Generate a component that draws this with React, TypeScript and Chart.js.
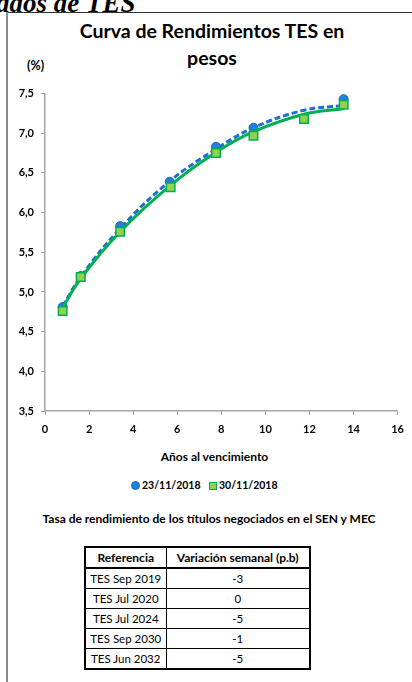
import React, { useEffect, useRef } from "react";
import { Chart, registerables } from "chart.js";

Chart.register(...registerables);

// ---- Data ----
const dateA = "23/11/2018";
const dateB = "30/11/2018";

const maturitiesA = [0.8, 1.62, 3.41, 5.66, 7.76, 9.46, 13.55];
const yieldsA = [4.81, 5.2, 5.83, 6.39, 6.83, 7.07, 7.43];

const maturitiesB = [0.8, 1.62, 3.41, 5.7, 7.76, 9.46, 11.75, 13.55];
const yieldsB = [4.76, 5.19, 5.76, 6.32, 6.75, 6.97, 7.18, 7.36];

// trend curves
const trendX = [0.8, 1.62, 3.41, 5.68, 7.76, 9.46, 11.75, 13.55];
const trendA = [4.82, 5.19, 5.8, 6.4, 6.8, 7.07, 7.29, 7.35];
const trendB = [4.8, 5.17, 5.76, 6.34, 6.76, 7.02, 7.24, 7.31];

const xMin = 0;
const xMax = 16;
const xStep = 2;
const yMin = 3.5;
const yMax = 7.5;
const yStep = 0.5;

const tableHeader = ["Referencia", "Variación semanal (p.b)"];
const tableRefs = ["TES Sep 2019", "TES Jul 2020", "TES Jul 2024", "TES Sep 2030", "TES Jun 2032"];
const tableChanges = ["-3", "0", "-5", "-1", "-5"];

const FONT = "Lato, 'Open Sans', sans-serif";
const BLUE_FILL = "#1f80d8";
const BLUE_BORDER = "#1668c2";
const BLUE_LINE = "#1f6fcf";
const GREEN_FILL = "#92d050";
const GREEN_BORDER = "#00b050";
const AXIS = "#a6a6a6";

function toXY(xs: number[], ys: number[]) {
  return xs.map((x, i) => ({ x, y: ys[i] }));
}

function YieldChart() {
  const ref = useRef<HTMLCanvasElement | null>(null);
  useEffect(() => {
    if (!ref.current) return;
    const chart = new Chart(ref.current, {
      type: "scatter",
      data: {
        datasets: [
          {
            label: dateB,
            data: toXY(maturitiesB, yieldsB),
            pointStyle: "rect",
            pointRadius: 6,
            backgroundColor: GREEN_FILL,
            borderColor: GREEN_BORDER,
            borderWidth: 1.5,
            order: 0,
          },
          {
            label: "trend " + dateB,
            data: toXY(trendX, trendB),
            showLine: true,
            pointRadius: 0,
            borderColor: GREEN_BORDER,
            borderWidth: 3,
            tension: 0.4,
            order: 1,
          },
          {
            label: dateA,
            data: toXY(maturitiesA, yieldsA),
            pointStyle: "circle",
            pointRadius: 4.5,
            backgroundColor: BLUE_FILL,
            borderColor: BLUE_BORDER,
            borderWidth: 1,
            order: 2,
          },
          {
            label: "trend " + dateA,
            data: toXY(trendX, trendA),
            showLine: true,
            pointRadius: 0,
            borderColor: BLUE_LINE,
            borderWidth: 3,
            borderDash: [6, 3],
            tension: 0.4,
            order: 3,
          },
        ],
      },
      options: {
        responsive: false,
        animation: false,
        layout: { padding: { left: 0, right: 11.7, top: 13, bottom: 0 } },
        plugins: {
          legend: { display: false },
          tooltip: { enabled: false },
          title: { display: false },
        },
        scales: {
          x: {
            type: "linear",
            min: xMin,
            max: xMax,
            ticks: {
              stepSize: xStep,
              padding: 8,
              color: "#000",
              font: { family: FONT, size: 11, weight: "bold" },
            },
            grid: { drawOnChartArea: false, drawTicks: true, tickLength: 4, color: AXIS },
            border: { color: AXIS, width: 1.5 },
            afterFit: (s: any) => {
              s.height = 29;
            },
          },
          y: {
            type: "linear",
            min: yMin,
            max: yMax,
            ticks: {
              stepSize: yStep,
              padding: 7,
              color: "#000",
              font: { family: FONT, size: 11, weight: "bold" },
              callback: (v: any) => Number(v).toFixed(1).replace(".", ","),
            },
            grid: { drawOnChartArea: false, drawTicks: true, tickLength: 4, color: AXIS },
            border: { color: AXIS, width: 1.5 },
            afterFit: (s: any) => {
              s.width = 45;
            },
          },
        },
      },
    } as any);
    return () => chart.destroy();
  }, []);
  return (
    <canvas
      ref={ref}
      width={412}
      height={360}
      style={{ position: "absolute", left: 0, top: 80, width: 412, height: 360 }}
    />
  );
}

function Txt(props: {
  text: string;
  cx?: number;
  left?: number;
  cy: number;
  size: number;
  bold?: boolean;
  width?: number;
}) {
  const lh = props.size * 1.2;
  const w = props.width ?? 412;
  const left = props.left ?? (props.cx ?? 206) - w / 2;
  return (
    <div
      style={{
        position: "absolute",
        left,
        top: props.cy - props.size * 0.627,
        width: w,
        textAlign: props.left !== undefined ? "left" : "center",
        fontFamily: FONT,
        fontSize: props.size,
        fontWeight: props.bold ? 700 : 400,
        lineHeight: `${lh}px`,
        whiteSpace: "nowrap",
        color: "#000",
      }}
    >
      {props.text}
    </div>
  );
}

export default function App() {
  const cell = (extra: React.CSSProperties = {}): React.CSSProperties => ({
    border: "1px solid #000",
    padding: 0,
    height: 19,
    textAlign: "center",
    verticalAlign: "middle",
    fontFamily: FONT,
    fontSize: 11.5,
    lineHeight: "19px",
    color: "#000",
    whiteSpace: "nowrap",
    ...extra,
  });
  return (
    <div
      style={{
        position: "absolute",
        left: 0,
        top: 0,
        width: 412,
        height: 682,
        overflow: "hidden",
        background: "#fff",
      }}
    >
      {/* cut-off page heading */}
      <div
        style={{
          position: "absolute",
          left: -4,
          top: 14 - 27 * 0.891,
          fontFamily: "'Liberation Serif', 'Times New Roman', serif",
          fontStyle: "italic",
          fontWeight: 700,
          fontSize: 27,
          lineHeight: "27px",
          whiteSpace: "nowrap",
          color: "#000",
        }}
      >
        ados de TES
      </div>
      {/* frame */}
      <div style={{ position: "absolute", left: 7, top: 12, width: 420, height: 1, background: "#333" }} />
      <div style={{ position: "absolute", left: 6, top: 12, width: 2, height: 680, background: "#8c8c8c" }} />

      {/* title */}
      <Txt text="Curva de Rendimientos TES en" cx={212} cy={31.5} size={19.5} bold />
      <Txt text="pesos" cx={212} cy={58.5} size={19.5} bold />
      <Txt text="(%)" left={27} cy={66} size={12.5} bold />

      <YieldChart />

      <Txt text="Años al vencimiento" cx={214.5} cy={457.5} size={12} bold />

      {/* legend */}
      <div
        style={{
          position: "absolute",
          left: 130.5,
          top: 481,
          width: 9,
          height: 9,
          borderRadius: "50%",
          background: BLUE_FILL,
          boxSizing: "border-box",
          border: `1px solid ${BLUE_BORDER}`,
        }}
      />
      <Txt text={dateA} left={142} cy={485.7} size={10.5} bold />
      <div
        style={{
          position: "absolute",
          left: 208.5,
          top: 481.5,
          width: 8.5,
          height: 8.5,
          background: GREEN_FILL,
          boxSizing: "border-box",
          border: `1.5px solid ${GREEN_BORDER}`,
        }}
      />
      <Txt text={dateB} left={219} cy={485.7} size={10.5} bold />

      <Txt
        text="Tasa de rendimiento de los títulos negociados en el SEN y MEC"
        cx={209}
        cy={520}
        size={12}
        bold
      />

      {/* table */}
      <table
        style={{
          position: "absolute",
          left: 84,
          top: 546,
          borderCollapse: "collapse",
          border: "2px solid #000",
          tableLayout: "fixed",
          width: 225,
        }}
      >
        <colgroup>
          <col style={{ width: 81 }} />
          <col style={{ width: 144 }} />
        </colgroup>
        <thead>
          <tr>
            <th style={cell({ fontWeight: 700, fontSize: 12, borderBottom: "2px solid #000" })}>{tableHeader[0]}</th>
            <th style={cell({ fontWeight: 700, fontSize: 12, borderBottom: "2px solid #000" })}>{tableHeader[1]}</th>
          </tr>
        </thead>
        <tbody>
          {tableRefs.map((r, i) => (
            <tr key={r}>
              <td style={cell()}>{r}</td>
              <td style={cell()}>{tableChanges[i]}</td>
            </tr>
          ))}
        </tbody>
      </table>
    </div>
  );
}
